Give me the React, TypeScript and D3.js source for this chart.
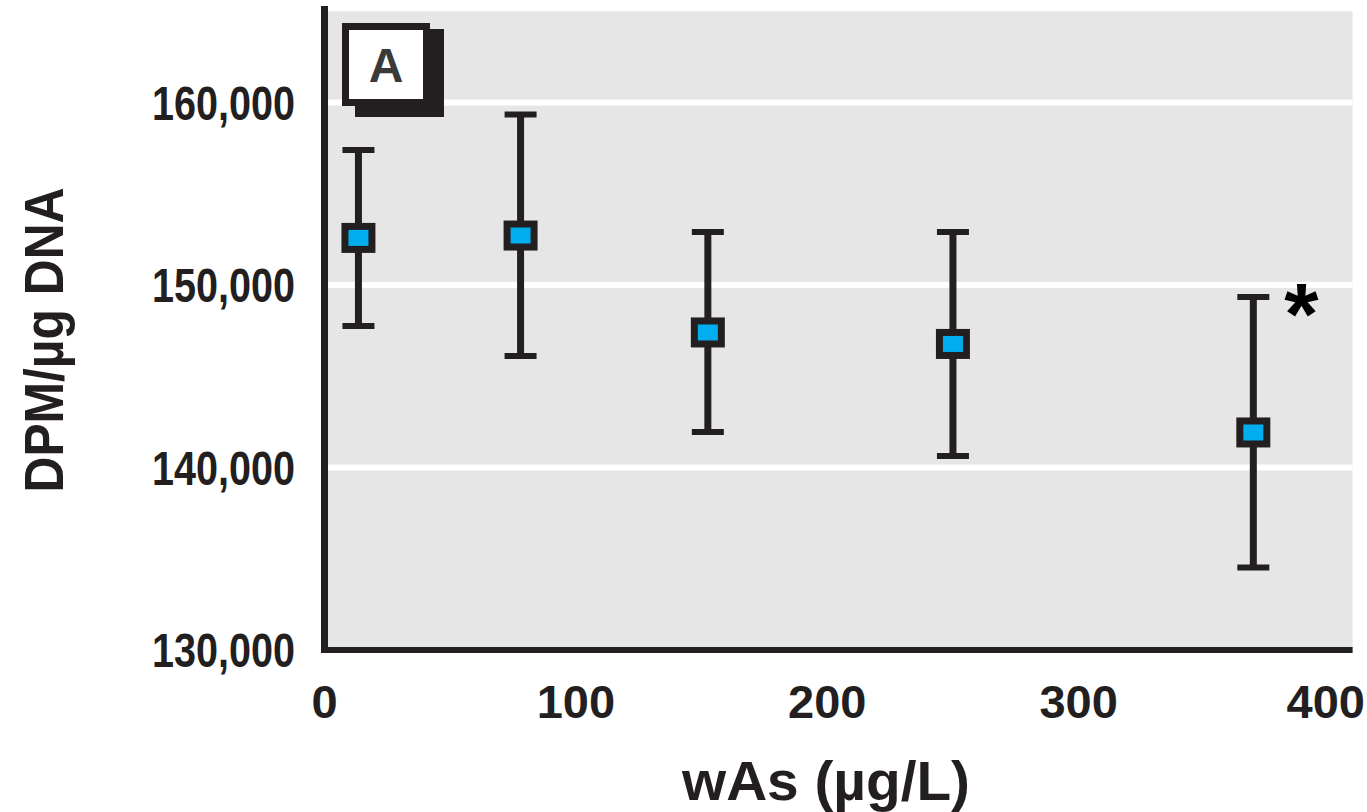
import React from "react";
import * as d3 from "d3";

// dose groups (µg/L) and DPM/µg DNA
const doses = [13.5, 78, 152.5, 250, 369.5];
const means = [152580, 152710, 147400, 146770, 141920];
const upper = [157400, 159340, 152900, 152900, 149340];
const lower = [147750, 146110, 141950, 140630, 134520];
const flagged = [false, false, false, false, true];

const xTicks = [0, 100, 200, 300, 400];
const yTicks = [130000, 140000, 150000, 160000];

const ink = "#231f20";
const font = "'Liberation Sans', Arial, sans-serif";

const App = () => {
  const width = 1367;
  const height = 812;

  const x = d3.scaleLinear().domain([0, 400]).range([324.5, 1330]);
  const y = d3.scaleLinear().domain([130000, 160000]).range([650, 102.5]);
  const fmt = d3.format(",");

  const plotLeft = x(0) + 3.5;
  const plotRight = x(409);
  const plotTop = y(165000);
  const plotBottom = y(130000) - 3;

  const mw = 34;
  const mh = 30;
  const sw = 7;
  const capW = 32;

  return (
    <svg
      width={width}
      height={height}
      style={{ position: "absolute", left: 0, top: 0, display: "block", background: "#fff" }}
      fontFamily={font}
    >
      {/* plot background */}
      <rect
        x={plotLeft}
        y={plotTop}
        width={plotRight - plotLeft}
        height={plotBottom - plotTop}
        fill="#e6e6e6"
      />

      {/* white gridlines */}
      {yTicks.slice(1).map((t) => (
        <line
          key={t}
          x1={plotLeft}
          x2={plotRight}
          y1={y(t)}
          y2={y(t)}
          stroke="#fff"
          strokeWidth={6}
        />
      ))}

      {/* axes */}
      <line x1={x(0)} x2={x(0)} y1={6} y2={y(130000) + 3} stroke={ink} strokeWidth={7} />
      <line x1={x(0) - 3.5} x2={plotRight} y1={y(130000)} y2={y(130000)} stroke={ink} strokeWidth={6} />

      {/* panel label */}
      <rect x={355} y={29} width={89} height={88} fill={ink} />
      <rect x={345.5} y={26.5} width={81} height={76} fill="#fff" stroke={ink} strokeWidth={7} />
      <text x={386} y={82} textAnchor="middle" fontSize={48} fontWeight="bold" fill="#3a3a3a">
        A
      </text>

      {/* y tick labels */}
      {yTicks.map((t) => (
        <text
          key={t}
          x={295}
          y={y(t) + 17}
          textAnchor="end"
          fontSize={48}
          fontWeight="bold"
          fill={ink}
          textLength={143}
          lengthAdjust="spacingAndGlyphs"
        >
          {fmt(t)}
        </text>
      ))}

      {/* x tick labels (last one kept inside the page edge) */}
      {xTicks.map((t) => {
        const px = x(t);
        const overflow = px + 38 > width - 2;
        return (
          <text
            key={t}
            x={overflow ? width - 2 : px}
            y={718}
            textAnchor={overflow ? "end" : "middle"}
            fontSize={47}
            fontWeight="bold"
            fill={ink}
          >
            {t}
          </text>
        );
      })}

      {/* axis titles */}
      <text
        transform="translate(63,340) rotate(-90)"
        textAnchor="middle"
        fontSize={56}
        fontWeight="bold"
        fill={ink}
        textLength={305}
        lengthAdjust="spacingAndGlyphs"
      >
        DPM/µg DNA
      </text>
      <text
        x={826}
        y={800}
        textAnchor="middle"
        fontSize={56}
        fontWeight="bold"
        fill={ink}
        textLength={288}
        lengthAdjust="spacingAndGlyphs"
      >
        wAs (µg/L)
      </text>

      {/* error bars and means */}
      {doses.map((d, i) => {
        const cx = x(d);
        return (
          <g key={i}>
            <line x1={cx} x2={cx} y1={y(upper[i])} y2={y(lower[i])} stroke={ink} strokeWidth={7} />
            <line x1={cx - capW / 2} x2={cx + capW / 2} y1={y(upper[i])} y2={y(upper[i])} stroke={ink} strokeWidth={6} />
            <line x1={cx - capW / 2} x2={cx + capW / 2} y1={y(lower[i])} y2={y(lower[i])} stroke={ink} strokeWidth={6} />
            <rect
              x={cx - (mw - sw) / 2}
              y={y(means[i]) - (mh - sw) / 2}
              width={mw - sw}
              height={mh - sw}
              fill="#00aeef"
              stroke={ink}
              strokeWidth={sw}
            />
            {flagged[i] && (
              <text
                x={cx + 48}
                y={y(upper[i]) + 47}
                textAnchor="middle"
                fontSize={88}
                fontWeight="bold"
                fill="#000"
              >
                *
              </text>
            )}
          </g>
        );
      })}
    </svg>
  );
};

export default App;
